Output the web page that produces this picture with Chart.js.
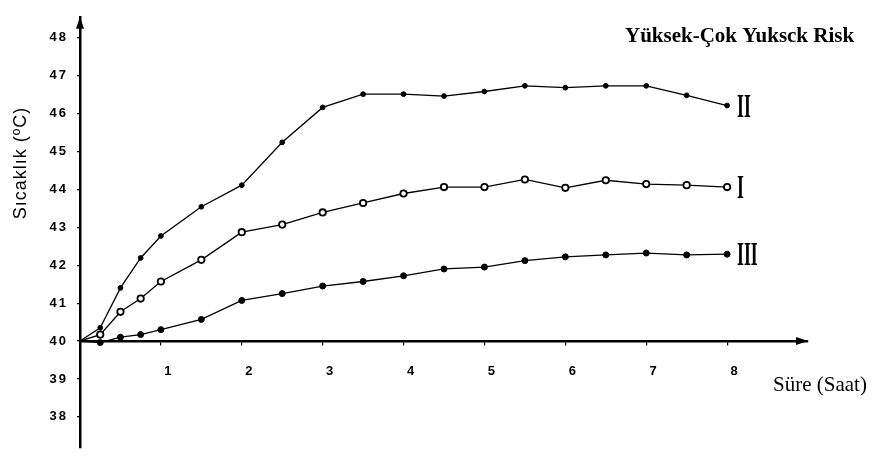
<!DOCTYPE html>
<html><head><meta charset="utf-8">
<script src="https://cdn.jsdelivr.net/npm/chart.js@4.4.0/dist/chart.umd.min.js"></script>
<style>html,body{margin:0;padding:0;background:#fff;}#wrap{width:875px;height:464px;}</style>
</head><body><div id="wrap"><canvas id="c" width="875" height="464"></canvas></div>
<script>
// ---- data ----
const times = [0, 0.25, 0.5, 0.75, 1, 1.5, 2, 2.5, 3, 3.5, 4, 4.5, 5, 5.5, 6, 6.5, 7, 7.5, 8];
const seriesI   = [40, 40.17, 40.77, 41.12, 41.57, 42.14, 42.87, 43.07, 43.39, 43.64, 43.89, 44.06, 44.06, 44.26, 44.04, 44.24, 44.14, 44.11, 44.06];
const seriesII  = [40, 40.35, 41.40, 42.19, 42.77, 43.54, 44.11, 45.24, 46.16, 46.51, 46.51, 46.46, 46.58, 46.73, 46.68, 46.73, 46.73, 46.48, 46.21];
const seriesIII = [40, 39.96, 40.10, 40.17, 40.30, 40.57, 41.07, 41.25, 41.45, 41.57, 41.72, 41.90, 41.95, 42.12, 42.22, 42.27, 42.32, 42.27, 42.29];
const seriesNames = ['I', 'II', 'III'];
const yTickValues = [38, 39, 40, 41, 42, 43, 44, 45, 46, 47, 48];
const xTickValues = [1, 2, 3, 4, 5, 6, 7, 8];
const titleText = 'Yüksek-Çok Yuksck Risk';
const xTitleText = 'Süre (Saat)';
const yTitleText = 'Sıcaklık (ºC)';

const toPts = arr => times.map((t, i) => ({x: t, y: arr[i]}));
const hideFirst = r => (ctx => ctx.dataIndex === 0 ? 0 : r);

const decor = {
  id: 'decor',
  beforeDraw(chart) { chart.ctx.letterSpacing = '2px'; },
  afterDraw(chart) {
    const ctx = chart.ctx, ca = chart.chartArea;
    const ys = chart.scales.y;
    ctx.save();
    ctx.letterSpacing = '0px';
    ctx.fillStyle = '#000';
    // arrow heads
    const y40 = ys.getPixelForValue(40);
    ctx.beginPath();
    ctx.moveTo(ca.left, ca.top); ctx.lineTo(ca.left - 4, ca.top + 12); ctx.lineTo(ca.left + 4, ca.top + 12); ctx.closePath(); ctx.fill();
    ctx.beginPath();
    ctx.moveTo(ca.right, y40); ctx.lineTo(ca.right - 12, y40 - 4); ctx.lineTo(ca.right - 12, y40 + 4); ctx.closePath(); ctx.fill();
    // title
    ctx.font = 'bold 21px "Liberation Serif"';
    ctx.textAlign = 'left'; ctx.textBaseline = 'alphabetic';
    ctx.fillText(titleText, 625, 42);
    // x title
    ctx.font = '21px "Liberation Serif"';
    ctx.fillText(xTitleText, 773, 391);
    // y title
    ctx.save();
    ctx.translate(21, 163);
    ctx.rotate(-Math.PI / 2);
    ctx.font = '18px "Liberation Sans"';
    ctx.letterSpacing = '1px';
    ctx.textAlign = 'center'; ctx.textBaseline = 'middle';
    ctx.fillText(yTitleText, 0, 0);
    ctx.restore();
    // roman numeral series labels
    chart.data.datasets.forEach((ds, i) => {
      const meta = chart.getDatasetMeta(i);
      const p = meta.data[meta.data.length - 1];
      ctx.save();
      ctx.translate(p.x + 10, p.y + 11);
      ctx.scale(0.52, 1);
      ctx.font = 'bold 34px "Liberation Serif"';
      ctx.textAlign = 'left'; ctx.textBaseline = 'alphabetic';
      ctx.fillText(ds.label, 0, 0);
      ctx.restore();
    });
    ctx.restore();
  }
};

new Chart(document.getElementById('c'), {
  type: 'line',
  data: {
    datasets: [
      {label: seriesNames[0], data: toPts(seriesI), borderColor: '#000', borderWidth: 1.3,
       pointRadius: hideFirst(3.2), pointBackgroundColor: '#fff', pointBorderColor: '#000', pointBorderWidth: 1.8, tension: 0},
      {label: seriesNames[1], data: toPts(seriesII), borderColor: '#000', borderWidth: 1.3,
       pointRadius: hideFirst(2.4), pointBackgroundColor: '#000', pointBorderColor: '#000', pointBorderWidth: 1, tension: 0},
      {label: seriesNames[2], data: toPts(seriesIII), borderColor: '#000', borderWidth: 1.3,
       pointRadius: hideFirst(3.0), pointBackgroundColor: '#000', pointBorderColor: '#000', pointBorderWidth: 1, tension: 0}
    ]
  },
  options: {
    responsive: false,
    animation: false,
    devicePixelRatio: 1,
    layout: {padding: {left: 0, top: 5, right: 67, bottom: 4}},
    plugins: {legend: {display: false}, tooltip: {enabled: false}},
    scales: {
      x: {
        type: 'linear', min: 0, max: 9, position: {y: 40},
        afterBuildTicks: s => { s.ticks = xTickValues.map(v => ({value: v})); },
        afterFit: s => { s.height = 0; },
        ticks: {color: '#000', font: {family: 'Liberation Sans', weight: 'bold', size: 13}, padding: 20, labelOffset: 8, maxRotation: 0, autoSkip: false},
        grid: {display: true, drawOnChartArea: false, drawTicks: true, tickLength: 3, color: '#000', lineWidth: 1.2},
        border: {display: true, color: '#000', width: 2.5}
      },
      y: {
        type: 'linear', min: 37.2, max: 48.55,
        afterBuildTicks: s => { s.ticks = yTickValues.map(v => ({value: v})); },
        afterFit: s => { s.width = 80; },
        ticks: {color: '#000', font: {family: 'Liberation Sans', weight: 'bold', size: 13}, padding: 9},
        grid: {display: true, drawOnChartArea: false, drawTicks: true, tickLength: 3, color: '#000', lineWidth: 1.2},
        border: {display: true, color: '#000', width: 2.5}
      }
    }
  },
  plugins: [decor]
});
</script>
</body></html>
